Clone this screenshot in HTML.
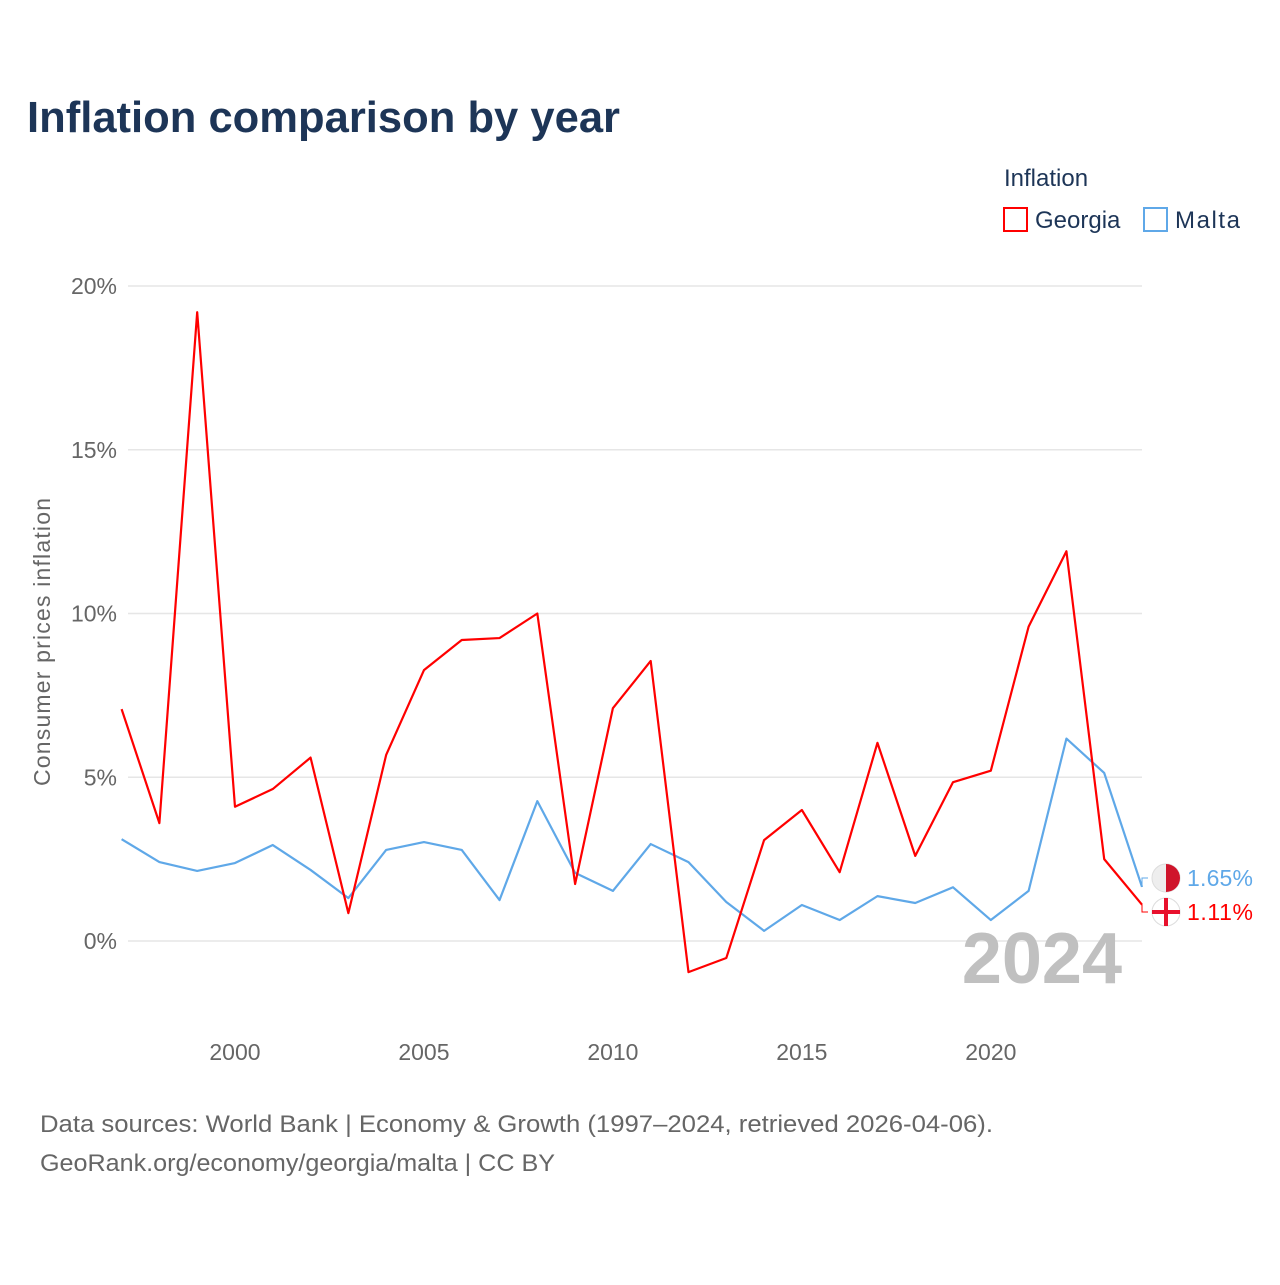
<!DOCTYPE html>
<html><head><meta charset="utf-8"><style>
body{margin:0;background:#fff;font-family:"Liberation Sans",sans-serif}
</style></head><body>
<svg width="1280" height="1280" xmlns="http://www.w3.org/2000/svg" font-family="Liberation Sans, sans-serif">
<text x="27" y="132" font-size="44" font-weight="bold" fill="#1d3557" textLength="593" lengthAdjust="spacingAndGlyphs">Inflation comparison by year</text>
<text x="1004" y="186" font-size="24" fill="#1d3557">Inflation</text>
<g><rect x="1004" y="208" width="23" height="23" fill="none" stroke="#ff0000" stroke-width="2"/><text x="1035" y="228" font-size="24" fill="#1d3557">Georgia</text></g>
<g><rect x="1144" y="208" width="23" height="23" fill="none" stroke="#5fa8e8" stroke-width="2"/><text x="1175" y="228" font-size="24" fill="#1d3557" textLength="65">Malta</text></g>
<text transform="translate(50,642) rotate(-90)" text-anchor="middle" font-size="23" fill="#666" textLength="288">Consumer prices inflation</text>
<g id="grid"></g>
<text x="1122" y="983" text-anchor="end" font-size="72" font-weight="bold" fill="#c0c0c0">2024</text>
<g id="series"></g>
<text x="40" y="1132" font-size="24" fill="#666" textLength="953" lengthAdjust="spacingAndGlyphs">Data sources: World Bank | Economy &amp; Growth (1997–2024, retrieved 2026-04-06).</text>
<text x="40" y="1171" font-size="24" fill="#666" textLength="515" lengthAdjust="spacingAndGlyphs">GeoRank.org/economy/georgia/malta | CC BY</text>
</svg>
<script>
const years=[1997,1998,1999,2000,2001,2002,2003,2004,2005,2006,2007,2008,2009,2010,2011,2012,2013,2014,2015,2016,2017,2018,2019,2020,2021,2022,2023,2024];
const georgia=[7.08,3.6,19.2,4.1,4.64,5.6,0.85,5.68,8.27,9.19,9.25,10.0,1.74,7.11,8.55,-0.95,-0.52,3.08,4.0,2.1,6.05,2.6,4.85,5.2,9.6,11.9,2.5,1.11];
const malta=[3.11,2.41,2.14,2.38,2.93,2.17,1.31,2.78,3.02,2.78,1.25,4.27,2.08,1.53,2.96,2.41,1.19,0.31,1.1,0.64,1.37,1.16,1.64,0.64,1.53,6.18,5.13,1.65];
const yTicks=[0,5,10,15,20];
const xTicks=[2000,2005,2010,2015,2020];
const NS="http://www.w3.org/2000/svg";
const X=y=>121.6+(y-1997)*(1142-121.6)/27;
const Y=v=>941-v*32.75;
function mk(t,a,p){const e=document.createElementNS(NS,t);for(const k in a)e.setAttribute(k,a[k]);p.appendChild(e);return e;}
const g=document.getElementById('grid');
yTicks.forEach(v=>{
 const l=mk('line',{x1:128,x2:1142,y1:Y(v),y2:Y(v),stroke:'#e6e6e6','stroke-width':1.5},g);
 
 
 const t=mk('text',{x:117,y:Y(v)+8,'text-anchor':'end','font-size':23,fill:'#666'},g);t.textContent=v+'%';
 
 
});
xTicks.forEach(y=>{
 const t=mk('text',{x:X(y),y:1060,'text-anchor':'middle','font-size':23,fill:'#666'},g);t.textContent=y;
 
 
});
const s=document.getElementById('series');
function line(d,c,n){
 const p=mk('polyline',{points:d.map((v,i)=>X(years[i])+','+Y(v)).join(' '),fill:'none',stroke:c,'stroke-width':2.2,'stroke-linejoin':'round'},s);
 
 
}
line(malta,'#5fa8e8','malta-line');
line(georgia,'#ff0000','georgia-line');
function lab(v,c,n,ly){
 const last=X(2024);
 mk('polyline',{points:`${last},${Y(v)} ${last},${ly} ${last+6},${ly}`,fill:'none',stroke:c,'stroke-width':1},s);
 const ci=mk('circle',{cx:1166,cy:ly,r:14,fill:n=='malta'?'#eee':'#fff',stroke:'#ddd'},s);
 
 
 if(n=='malta')mk('path',{d:`M1166,${ly-14} A14,14 0 0 1 1166,${ly+14} Z`,fill:'#cf142b'},s);
 else{mk('rect',{x:1164,y:ly-14,width:4,height:28,fill:'#e8112d'},s);mk('rect',{x:1152,y:ly-2,width:28,height:4,fill:'#e8112d'},s);}
 const t=mk('text',{x:1187,y:ly+8,'font-size':23,fill:c,textLength:66},s);t.textContent=v.toFixed(2)+'%';
 
 
}
lab(malta[malta.length-1],'#5fa8e8','malta',878);
lab(georgia[georgia.length-1],'#ff0000','georgia',912);
</script>
</body></html>
